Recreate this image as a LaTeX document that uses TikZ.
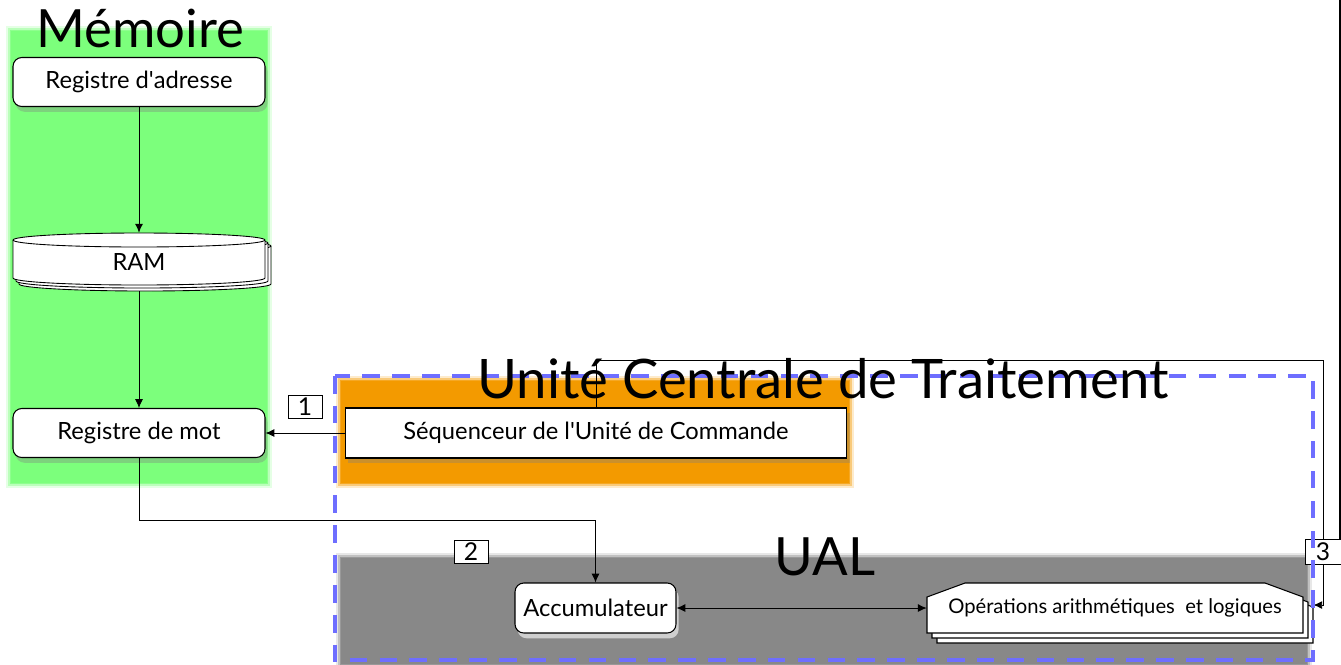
\documentclass[tikz,border=0pt]{standalone}
\usepackage{fontspec}
\setmainfont{Lato}
\usetikzlibrary{arrows.meta,shapes.misc,shadows,calc}
\usetikzlibrary{positioning}

\definecolor{vertmem}{RGB}{124,255,124}
\definecolor{orangeuc}{RGB}{243,154,0}
\definecolor{grisual}{RGB}{136,136,136}
\definecolor{bleucadre}{RGB}{110,110,255}

\tikzset{
	boite/.style={draw, fill=white, line width=0.6pt, inner sep=0pt, minimum height=0.98cm, font=\fontsize{13.5}{15}\selectfont},
	arrondi/.style={boite, rounded corners=5pt},
	ombre/.style={drop shadow={shadow xshift=1.5pt, shadow yshift=-3pt, opacity=0.35}},
	halo/.style={drop shadow={shadow xshift=1.5pt, shadow yshift=-3pt, fill=white, opacity=0.6}},
	fleche/.style={-{Latex[length=5pt,width=4.5pt]}, line width=0.5pt},
	numero/.style={draw, fill=white, line width=0.5pt, inner sep=0pt, minimum width=0.68cm, minimum height=0.46cm, font=\fontsize{14}{14}\selectfont},
	titre/.style={anchor=base, inner sep=0pt, font=\fontsize{30}{31}\selectfont},
}
% zone coloree aux bords flous
\newcommand{\zonefloue}[3]{%
	\foreach \e/\o in {5/0.2,3/0.4,1/0.7}{
		\fill[#1, opacity=\o] ($(#2)+(-\e,-\e)$) rectangle ($(#3)+(\e,\e)$);
	}
	\fill[#1] (#2) rectangle (#3);
}

\begin{document}
\begin{tikzpicture}[x=0.02cm, y=-0.02cm]
		\def\rx{2.52cm}
		\def\ry{0.14cm}
		\useasboundingbox (0,0) rectangle (1341,664);
		% zones
		\zonefloue{vertmem}{11,31}{267,483}
		\zonefloue{orangeuc}{341,381}{849,483}
		\zonefloue{grisual}{341,558}{1307,664}
		\draw[line width=1.1pt] (1340,0) -- (1340,540);
		% memoire
		\node[arrondi, ombre, minimum width=5.04cm] (adr) at (139,82) {Registre d\textquotesingle adresse};
		\foreach \s in {6,3,0}{
			\draw[fill=white, line width=0.5pt, shift={(\s,\s)}] (13,240) -- (13,278)
				arc[start angle=180, end angle=360, x radius=\rx, y radius=\ry] -- (265,240)
				arc[start angle=0, end angle=180, x radius=\rx, y radius=\ry] -- cycle;
			\draw[line width=0.5pt, shift={(\s,\s)}] (13,240) arc[start angle=180, end angle=360, x radius=\rx, y radius=\ry];
		}
		\node[inner sep=0pt, minimum width=5.04cm, minimum height=1.16cm, font=\fontsize{13.5}{15}\selectfont] (ram) at (139,262) {RAM};
		\node[arrondi, ombre, minimum width=5.04cm] (mot) at (139,433) {Registre de mot};
		% unite centrale
		\node[boite, ombre, minimum width=10.04cm, minimum height=1cm] (seq) at (596,433) {Séquenceur de l\textquotesingle Unité de Commande};
		\node[arrondi, halo, minimum width=3.22cm, minimum height=1cm] (acc) at (595.5,608) {Accumulateur};
		\foreach \s in {10,5,0}{
			\draw[fill=white, line width=0.6pt, shift={(\s,\s)}] (927,597) -- (965,583) -- (1265,583) -- (1303,597) -- (1303,633) -- (927,633) -- cycle;
		}
		\node[inner sep=0pt, minimum width=7.52cm, minimum height=1cm, font=\fontsize{11.5}{13}\selectfont] (ops) at (1115,608) {Opérations arithmétiques\ \ et logiques};
		% liaisons
		\draw[fleche] (adr.south) -- (ram.north);
		\draw[fleche] (ram.south) -- (mot.north);
		\draw[fleche] (seq.west) -- (mot.east);
		\draw[fleche] (mot.south) -- ++(0,62) -| (acc.north);
		\draw[{Latex[length=5pt,width=4.5pt]}-{Latex[length=5pt,width=4.5pt]}, line width=0.5pt] (acc.east) -- (ops.west);
		\draw[fleche] (seq.north) |- (1323,360) |- ([xshift=5.7pt, yshift=1.7pt]ops.east);
		% numeros
		\node[numero] (n1) at (305,407) {1};
		\node[numero] (n2) at (471,552) {2};
		\node[numero, minimum width=0.72cm, minimum height=0.5cm] (n3) at (1323,552) {3};
		\draw[bleucadre, line width=2pt, dash pattern=on 10pt off 7pt] (335,376) rectangle (1313,660);
		% titres
		\node[titre] (tmem) at (140,47) {Mémoire};
		\node[titre, font=\fontsize{31}{32}\selectfont] (tuc) at (823,398) {Unité Centrale de Traitement};
		\node[titre] (tual) at (825,575) {UAL};
\end{tikzpicture}
\end{document}
